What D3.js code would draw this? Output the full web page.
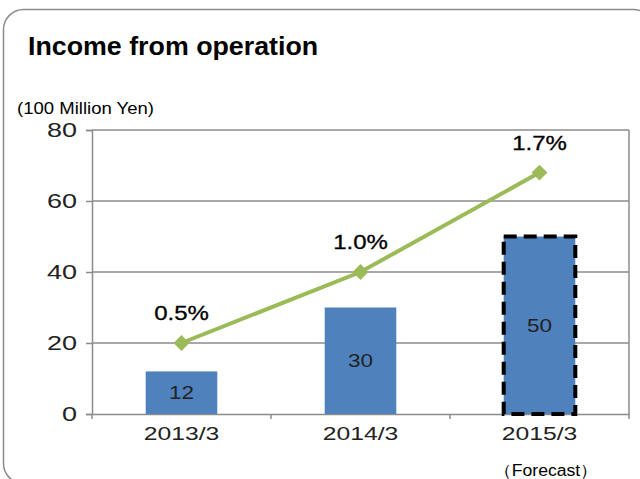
<!DOCTYPE html>
<html>
  <head>
    <title>Income from operation</title>
    <script src="https://d3js.org/d3.v7.min.js"></script>
    <style>
      body { margin: 0; background: #fff; }
      svg { display: block; }
      .title { font-family: "Liberation Sans", Arial, sans-serif; font-weight: bold; font-size: 26px; fill: #000; }
      .unit { font-family: "Liberation Sans", Arial, sans-serif; font-size: 17px; fill: #000; }
      .axis text { font-family: "Liberation Sans", Arial, sans-serif; fill: #222; }
      .bar-label { font-family: "Liberation Sans", Arial, sans-serif; font-size: 18px; fill: #222; }
      .pct-label { font-family: "Liberation Sans", Arial, sans-serif; font-size: 20px; fill: #000; stroke: #000; stroke-width: 0.3px; }
      .note { font-family: "Liberation Sans", Arial, sans-serif; font-size: 16px; fill: #000; }
    </style>
  </head>
  <body>
    <svg width="640" height="479"></svg>
    <script>
      // data
      const categories = ["2013/3", "2014/3", "2015/3"];
      const income = [12, 30, 50];          // 100 million yen
      const margin = [0.5, 1.0, 1.7];       // operating margin, %
      const forecast = [false, false, true];
      const yTicks = [0, 20, 40, 60, 80];

      const svg = d3.select("svg");
      const plotLeft = 92, plotRight = 629, plotTop = 130, plotBottom = 414;

      // stretch text horizontally (the source font is wider than Arial)
      function widen(sel, k) {
        sel.each(function () {
          const w = this.getComputedTextLength();
          d3.select(this).attr("textLength", w * k).attr("lengthAdjust", "spacingAndGlyphs");
        });
      }

      // outer frame
      svg.append("rect")
        .attr("x", 3.5).attr("y", 9.5)
        .attr("width", 650).attr("height", 474)
        .attr("rx", 20)
        .attr("fill", "none")
        .attr("stroke", "#8c8c8c")
        .attr("stroke-width", 1.5);

      svg.append("text")
        .attr("class", "title")
        .attr("x", 28).attr("y", 55)
        .text("Income from operation")
        .call(widen, 1.03);

      svg.append("text")
        .attr("class", "unit")
        .attr("x", 17).attr("y", 114)
        .text("(100 Million Yen)")
        .call(widen, 1.09);

      const x = d3.scaleBand()
        .domain(categories)
        .range([plotLeft, plotRight])
        .paddingInner(0.6)
        .paddingOuter(0.3);

      const y = d3.scaleLinear().domain([0, 80]).range([plotBottom, plotTop]);
      const y2 = d3.scaleLinear().domain([0, 2.0]).range([plotBottom, plotTop]);

      // gridlines
      svg.append("g")
        .selectAll("line")
        .data(yTicks.slice(1))
        .join("line")
          .attr("x1", plotLeft).attr("x2", plotRight)
          .attr("y1", d => y(d)).attr("y2", d => y(d))
          .attr("stroke", "#8c8c8c")
          .attr("stroke-width", 1.5);

      // right border of plot area
      svg.append("line")
        .attr("x1", plotRight).attr("x2", plotRight)
        .attr("y1", plotTop).attr("y2", plotBottom)
        .attr("stroke", "#8c8c8c").attr("stroke-width", 1.5);

      // y axis
      const yAxis = svg.append("g")
        .attr("class", "axis")
        .attr("transform", `translate(${plotLeft},0)`)
        .call(d3.axisLeft(y).tickValues(yTicks).tickSize(6).tickPadding(9));
      yAxis.select(".domain").attr("stroke", "#8c8c8c").attr("stroke-width", 1.5);
      yAxis.selectAll(".tick line").attr("stroke", "#8c8c8c").attr("stroke-width", 1.5);
      yAxis.selectAll(".tick text").attr("font-size", 20).call(widen, 1.35);

      // x axis
      const xAxis = svg.append("g")
        .attr("class", "axis")
        .attr("transform", `translate(0,${plotBottom})`)
        .call(d3.axisBottom(x).tickSize(0).tickPadding(13));
      xAxis.select(".domain").attr("stroke", "#8c8c8c").attr("stroke-width", 1.5);
      xAxis.selectAll(".tick text").attr("font-size", 19).call(widen, 1.3);

      // category boundary ticks
      const step = x.step();
      svg.append("g")
        .selectAll("line")
        .data(d3.range(categories.length + 1))
        .join("line")
          .attr("x1", i => plotLeft + i * step).attr("x2", i => plotLeft + i * step)
          .attr("y1", plotBottom).attr("y2", plotBottom + 5)
          .attr("stroke", "#8c8c8c").attr("stroke-width", 1.5);

      // bars
      const bars = categories.map((c, i) => ({ c, v: income[i], f: forecast[i] }));
      svg.append("g")
        .selectAll("rect")
        .data(bars)
        .join("rect")
          .attr("x", d => x(d.c))
          .attr("y", d => y(d.v))
          .attr("width", x.bandwidth())
          .attr("height", d => y(0) - y(d.v))
          .attr("fill", "#4f81bd")
          .attr("stroke", d => d.f ? "#000" : "none")
          .attr("stroke-width", 4)
          .attr("stroke-dasharray", "13,7");

      svg.append("g")
        .selectAll("text")
        .data(bars)
        .join("text")
          .attr("class", "bar-label")
          .attr("x", d => x(d.c) + x.bandwidth() / 2)
          .attr("y", d => (y(d.v) + y(0)) / 2)
          .attr("dy", "0.35em")
          .attr("text-anchor", "middle")
          .text(d => d.v)
          .call(widen, 1.25);

      // margin line
      const pts = categories.map((c, i) => ({ c, v: margin[i] }));
      const cx = d => x(d.c) + x.bandwidth() / 2;
      svg.append("path")
        .datum(pts)
        .attr("fill", "none")
        .attr("stroke", "#9bbb59")
        .attr("stroke-width", 4)
        .attr("d", d3.line().x(cx).y(d => y2(d.v)));

      svg.append("g")
        .selectAll("path")
        .data(pts)
        .join("path")
          .attr("transform", d => `translate(${cx(d)},${y2(d.v)})`)
          .attr("d", d3.symbol(d3.symbolDiamond2, 160))
          .attr("fill", "#9bbb59");

      svg.append("g")
        .selectAll("text")
        .data(pts)
        .join("text")
          .attr("class", "pct-label")
          .attr("x", cx)
          .attr("y", d => y2(d.v) - 23)
          .attr("text-anchor", "middle")
          .text(d => d.v.toFixed(1) + "%")
          .call(widen, 1.2);

      svg.append("text")
        .attr("class", "note")
        .attr("x", 546).attr("y", 476)
        .attr("text-anchor", "middle")
        .text("（Forecast）")
        .call(widen, 1.1);
    </script>
  </body>
</html>
